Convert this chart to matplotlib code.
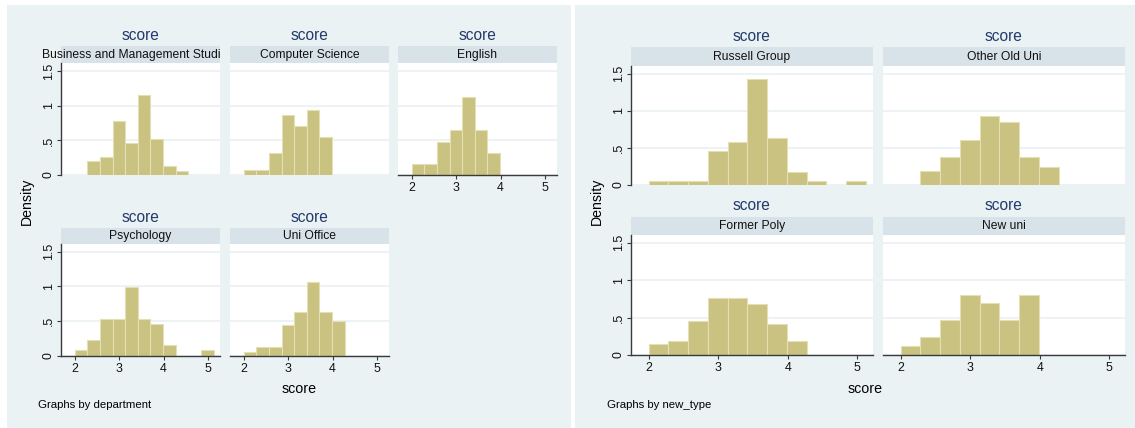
import matplotlib
matplotlib.use("Agg")
import matplotlib.pyplot as plt
from matplotlib.patches import Rectangle
from matplotlib.transforms import Bbox
import numpy as np

plt.rcParams['font.family'] = ['Liberation Sans', 'DejaVu Sans']

# histogram bins shared by every panel
bin_start = 2.0
bin_width = 0.2841
n_bins = 11

# density per bin, by department
business = [0, 0.198, 0.256, 0.778, 0.459, 1.164, 0.517, 0.126, 0.058, 0, 0]
computer_science = [0.068, 0.068, 0.314, 0.870, 0.715, 0.947, 0.551, 0, 0, 0, 0]
english = [0.155, 0.155, 0.478, 0.647, 1.13, 0.647, 0.319, 0, 0, 0, 0]
psychology = [0.082, 0.227, 0.531, 0.531, 0.995, 0.531, 0.459, 0.155, 0, 0, 0.082]
uni_office = [0.058, 0.126, 0.126, 0.444, 0.628, 1.068, 0.628, 0.498, 0, 0, 0]

# density per bin, by institution type
russell = [0.054, 0.054, 0.054, 0.462, 0.574, 1.426, 0.632, 0.175, 0.054, 0, 0.054]
other_old = [0, 0.188, 0.377, 0.605, 0.933, 0.848, 0.377, 0.238, 0, 0, 0]
former_poly = [0.147, 0.1875, 0.455, 0.763, 0.763, 0.683, 0.415, 0.1875, 0, 0, 0]
new_uni = [0.12, 0.241, 0.469, 0.804, 0.692, 0.469, 0.804, 0, 0, 0, 0]

xticks = [2, 3, 4, 5]
yticks = [0, 0.5, 1, 1.5]
ytick_labels = ['0', '.5', '1', '1.5']

BG = '#EAF2F3'
STRIP = '#D8E3E9'
BAR = '#C9C280'
BAR_EDGE = '#E4DFB4'
GRID = '#EAF1F3'
AXIS = '#3A3A3A'
NAVY = '#233A6C'

W, H = 1135, 428
fig = plt.figure(figsize=(W / 100, H / 100), dpi=100)


def rect(x0, y0, x1, y1, color):
    fig.add_artist(Rectangle((x0 / W, 1 - y1 / H), (x1 - x0) / W, (y1 - y0) / H,
                             transform=fig.transFigure, facecolor=color,
                             edgecolor='none', zorder=-2))


def ftext(x, y, s, **kw):
    return fig.text(x / W, 1 - y / H, s, **kw)


def panel(x0, x1, title_y, strip_top, top, bottom, heights, label, xlim, ylim,
          show_y, show_x, clip_right=None):
    # title and strip above the plot region
    ftext((x0 + x1) / 2, title_y, 'score', ha='center', va='center',
          fontsize=11.2, color=NAVY)
    rect(x0, strip_top, x1, top, STRIP)
    sy = (strip_top + top) / 2 + 0.5
    if clip_right is None:
        ftext((x0 + x1) / 2, sy, label, ha='center', va='center',
              fontsize=8.7, color='#111111')
    else:
        # label too long for its strip: runs off and is cut at the strip edge
        t = ftext(x0 - 19.3, sy, label, ha='left', va='center',
                  fontsize=8.7, color='#111111')
        t.set_clip_box(Bbox([[0, 0], [clip_right, H]]))
        t.set_clip_on(True)

    ax = fig.add_axes([x0 / W, 1 - bottom / H, (x1 - x0) / W, (bottom - top) / H])
    ax.set_facecolor('white')
    edges = bin_start + bin_width * np.arange(n_bins)
    h = np.array(heights)
    keep = h > 0
    ax.bar(edges[keep], h[keep], width=bin_width, align='edge', color=BAR,
           edgecolor=BAR_EDGE, linewidth=0.8, zorder=2)
    ax.set_xlim(*xlim)
    ax.set_ylim(*ylim)
    for s in ax.spines.values():
        s.set_visible(False)
    ax.set_yticks(yticks)
    ax.yaxis.grid(True, color=GRID, linewidth=1.2)
    ax.set_axisbelow(True)
    ax.set_xticks(xticks)
    ax.tick_params(colors=AXIS, labelcolor='#111111', labelsize=8.9,
                   length=3, width=0.8)
    ax.tick_params(axis='y', pad=1.5)
    ax.tick_params(axis='x', pad=2)
    if show_y:
        ax.spines['left'].set_visible(True)
        ax.spines['left'].set_color(AXIS)
        ax.spines['left'].set_linewidth(1)
        ax.set_yticklabels(ytick_labels, rotation=90, va='center')
    else:
        ax.tick_params(axis='y', left=False, labelleft=False)
    if show_x:
        ax.spines['bottom'].set_visible(True)
        ax.spines['bottom'].set_color(AXIS)
        ax.spines['bottom'].set_linewidth(1)
        ax.set_xticklabels([str(v) for v in xticks])
    else:
        ax.tick_params(axis='x', bottom=False, labelbottom=False)
    return ax


# left graph: histogram by department
rect(7, 5, 571, 428, BG)
lx = (1.69, 5.27)
ly = (0, 1.62)
cols_l = [(61, 220), (230, 389), (398, 557)]
panel(*cols_l[0], 36, 45.5, 63, 175, business,
      'Business and Management Studies', lx, ly, True, False, clip_right=221)
panel(*cols_l[1], 36, 45.5, 63, 175, computer_science, 'Computer Science',
      lx, ly, False, False)
panel(*cols_l[2], 36, 45.5, 63, 175, english, 'English', lx, ly, False, True)
panel(*cols_l[0], 217, 227.5, 243.5, 355.7, psychology, 'Psychology',
      lx, ly, True, True)
panel(*cols_l[1], 217, 227.5, 243.5, 355.7, uni_office, 'Uni Office',
      lx, ly, False, True)
ftext(27, 201, 'Density', rotation=90, ha='center', va='center', fontsize=10.2)
ftext(299, 389, 'score', ha='center', va='center', fontsize=10.3)
ftext(38, 405, 'Graphs by department', ha='left', va='center', fontsize=8.2)

# right graph: histogram by institution type
rect(575, 5, 1135, 428, BG)
rx = (1.745, 5.226)
ry = (0, 1.605)
cols_r = [(631, 873), (883, 1125)]
panel(*cols_r[0], 36.5, 46.7, 66, 185, russell, 'Russell Group',
      rx, ry, True, False)
panel(*cols_r[1], 36.5, 46.7, 66, 185, other_old, 'Other Old Uni',
      rx, ry, False, False)
panel(*cols_r[0], 205.5, 216.7, 235, 355, former_poly, 'Former Poly',
      rx, ry, True, True)
panel(*cols_r[1], 205.5, 216.7, 235, 355, new_uni, 'New uni',
      rx, ry, False, True)
ftext(597, 201, 'Density', rotation=90, ha='center', va='center', fontsize=10.2)
ftext(865, 389, 'score', ha='center', va='center', fontsize=10.3)
ftext(607, 405, 'Graphs by new_type', ha='left', va='center', fontsize=8.2)

fig.savefig('out.png', dpi=100)
